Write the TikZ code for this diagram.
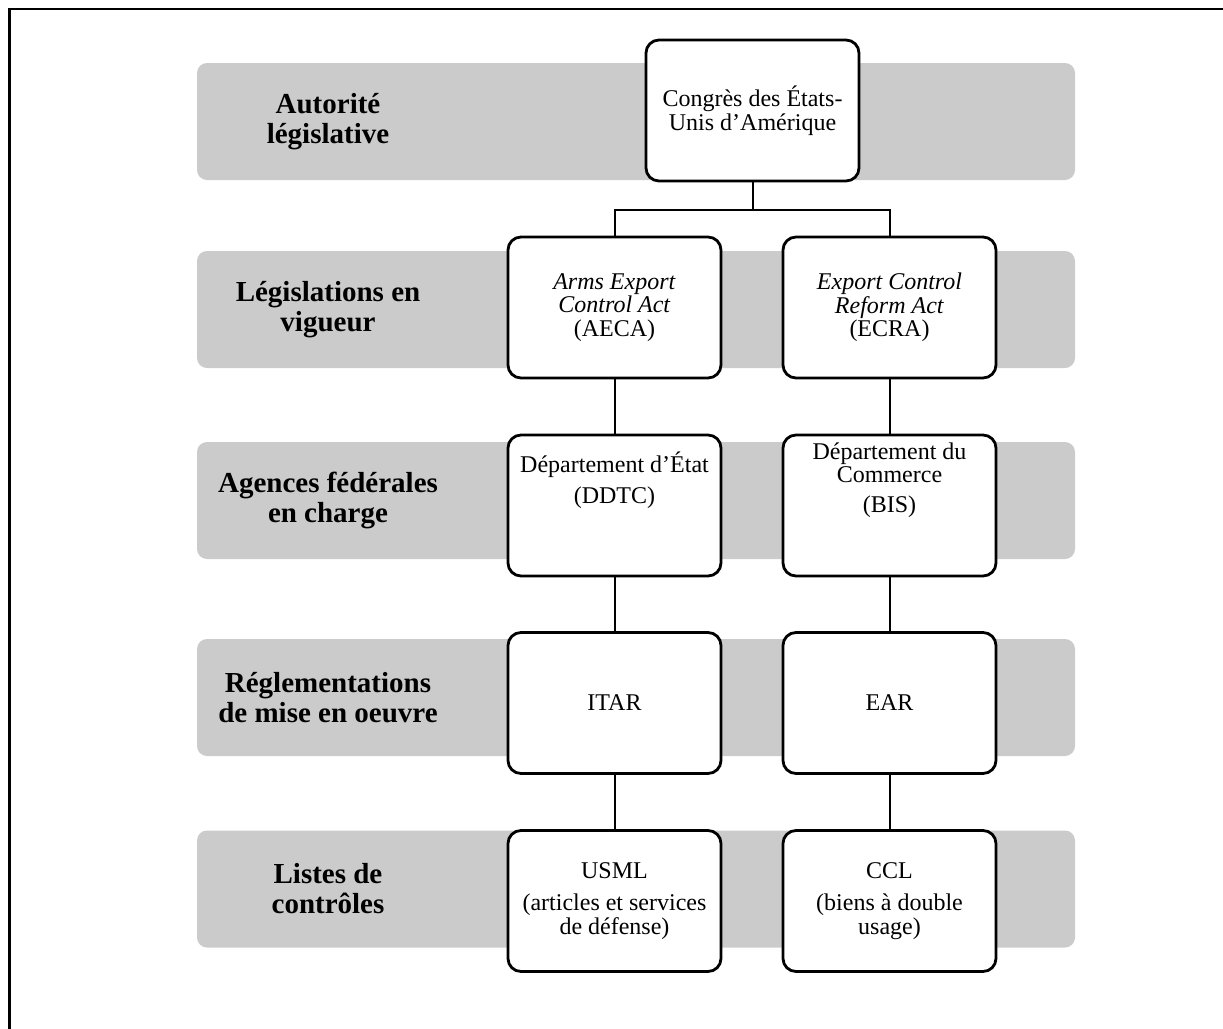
\documentclass[tikz,border=0pt]{standalone}
\usepackage{fontspec}
\setmainfont{Liberation Serif}
\definecolor{bandgray}{RGB}{203,203,203}

\begin{document}
\begin{tikzpicture}[
    x=0.5pt, y=-0.5pt,
  band/.style={rectangle, fill=bandgray, rounded corners=5pt, minimum width=439pt, minimum height=58.5pt, inner sep=0pt},
  rowlabel/.style={align=center, font=\bfseries\fontsize{14.5}{15}\selectfont},
  orgbox/.style={rectangle, draw, line width=1.4pt, rounded corners=6.5pt, fill=white, minimum width=106.5pt, minimum height=70.5pt, align=center, inner sep=2pt, font=\fontsize{12}{11.75}\selectfont},
  raised/.style={text depth=28pt},
  link/.style={line width=1pt}
]

% Page frame
\useasboundingbox (0,0) rectangle (1223,1029);
\clip (0,0) rectangle (1223,1029);
\draw[line width=1.3pt] (9.5,9) rectangle (1240,1045);

% Gray bands
\node[band] (band1) at (636,121.5) {};
\node[band] (band2) at (636,309.5) {};
\node[band] (band3) at (636,500.5) {};
\node[band] (band4) at (636,697.5) {};
\node[band] (band5) at (636,889) {};

% Row labels
\node[rowlabel] (lab1) at (328,121.5) {Autorité\\législative};
\node[rowlabel] (lab2) at (328,309.5) {Législations en\\vigueur};
\node[rowlabel] (lab3) at (328,500.5) {Agences fédérales\\en charge};
\node[rowlabel] (lab4) at (328,697.5) {Réglementations\\de mise en oeuvre};
\node[rowlabel] (lab5) at (328,889) {Listes de\\contrôles};

% Boxes
\node[orgbox] (congres) at (752.5,110.5) {Congrès des États-\\Unis d’Amérique};
\node[orgbox] (aeca) at (614.5,307.5) {\textit{Arms Export}\\\textit{Control Act}\\(AECA)};
\node[orgbox] (ecra) at (889.5,307.5) {\textit{Export Control}\\\textit{Reform Act}\\(ECRA)};
\node[orgbox, raised] (ddtc) at (614.5,505.5) {Département d’État\\[4pt](DDTC)};
\node[orgbox, raised] (bis) at (889.5,505.5) {Département du\\Commerce\\[3pt](BIS)};
\node[orgbox] (itar) at (614.5,703) {ITAR};
\node[orgbox] (ear) at (889.5,703) {EAR};
\node[orgbox] (usml) at (614.5,901) {USML\\[4.5pt](articles et services\\de défense)};
\node[orgbox] (ccl) at (889.5,901) {CCL\\[4.5pt](biens à double\\usage)};

% Links
\draw[link] (congres.south) -- ++(0,28) -| (aeca.north);
\draw[link] (congres.south) -- ++(0,28) -| (ecra.north);
\draw[link] (aeca.south) -- (ddtc.north);
\draw[link] (ecra.south) -- (bis.north);
\draw[link] (ddtc.south) -- (itar.north);
\draw[link] (bis.south) -- (ear.north);
\draw[link] (itar.south) -- (usml.north);
\draw[link] (ear.south) -- (ccl.north);

\end{tikzpicture}
\end{document}
